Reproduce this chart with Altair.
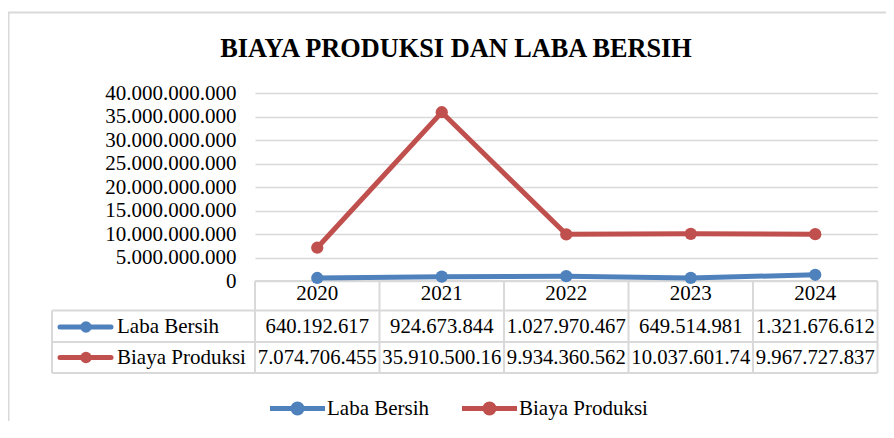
import altair as alt
import pandas as pd

# ---- data ----
YEARS = ["2020", "2021", "2022", "2023", "2024"]
SERIES = ["Laba Bersih", "Biaya Produksi"]
LABA = [640192617, 924673844, 1027970467, 649514981, 1321676612]
BIAYA = [7074706455, 35910500160, 9934360562, 10037601740, 9967727837]
LABA_LABELS = ["640.192.617", "924.673.844", "1.027.970.467", "649.514.981", "1.321.676.612"]
BIAYA_LABELS = ["7.074.706.455", "35.910.500.16", "9.934.360.562", "10.037.601.74", "9.967.727.837"]
Y_TICKS = [0, 5e9, 10e9, 15e9, 20e9, 25e9, 30e9, 35e9, 40e9]
TITLE = "BIAYA PRODUKSI DAN LABA BERSIH"
COLORS = ["#4F81BD", "#C0504D"]

rows = []
for s, vals, labs in [(SERIES[0], LABA, LABA_LABELS), (SERIES[1], BIAYA, BIAYA_LABELS)]:
    for y, v, l in zip(YEARS, vals, labs):
        rows.append({"year": y, "series": s, "value": v, "label": l})
df = pd.DataFrame(rows)
years_df = pd.DataFrame({"year": YEARS})
series_df = pd.DataFrame({"series": SERIES})
one = pd.DataFrame({"t": [TITLE]})

W, H = 622.5, 188
FONT = "Liberation Serif"
FS = 21
GRID = "#d9d9d9"

xscale = alt.Scale(type="band", domain=YEARS, paddingInner=0, paddingOuter=0)
cscale = alt.Scale(domain=SERIES, range=COLORS)
yrow = alt.Y("series:N", scale=alt.Scale(type="point", domain=SERIES, range=[234, 264.5], padding=0), axis=None)

def xc(bp=0.5):
    return alt.X("year:O", scale=xscale, axis=None, bandPosition=bp)

r1, r2 = 0.18, 0.08
SYM = (f"M-1.1,0L1.1,0M{r1},0A{r1},{r1},0,1,1,-{r1},0A{r1},{r1},0,1,1,{r1},0"
       f"M{r2},0A{r2},{r2},0,1,1,-{r2},0A{r2},{r2},0,1,1,{r2},0")

frame = alt.Chart(one).mark_rect(fill="transparent", stroke=GRID, strokeWidth=2).encode(
    x=alt.value(-246.5), x2=alt.value(W + 100), y=alt.value(-80.5), y2=alt.value(H + 300))

title = alt.Chart(one).mark_text(font=FONT, fontSize=26.3, fontWeight="bold", color="black",
                                 align="center", baseline="alphabetic").encode(
    x=alt.value(201), y=alt.value(-36), text="t:N")

line = alt.Chart(df).mark_line(strokeWidth=5).encode(
    x=xc(),
    y=alt.Y("value:Q", scale=alt.Scale(domain=[0, 40e9], nice=False),
            axis=alt.Axis(title=None, values=Y_TICKS, grid=True, gridColor=GRID, gridWidth=1.5,
                          domain=False, ticks=False, labelFont=FONT, labelFontSize=FS,
                          labelColor="black", labelPadding=19,
                          labelExpr="replace(format(datum.value, ','), regexp(',', 'g'), '.')")),
    color=alt.Color("series:N", scale=cscale,
                    legend=alt.Legend(orient="none", legendX=15, legendY=288, direction="horizontal",
                                      title=None, symbolType=SYM, symbolSize=2500, symbolStrokeWidth=5,
                                      symbolOpacity=1, labelFont=FONT, labelFontSize=FS,
                                      labelColor="black", labelOffset=2, columnPadding=22, padding=0)),
    order="year:O",
)

points = alt.Chart(df).mark_point(filled=True, size=150, opacity=1).encode(
    x=xc(),
    y=alt.Y("value:Q", scale=alt.Scale(domain=[0, 40e9], nice=False), axis=None),
    color=alt.Color("series:N", scale=cscale, legend=None),
)

vrules = alt.Chart(years_df).mark_rule(color=GRID, strokeWidth=2).encode(
    x=xc(0), y=alt.value(H), y2=alt.value(280))
vright = alt.Chart(one).mark_rule(color=GRID, strokeWidth=2).encode(
    x=alt.value(W), y=alt.value(H), y2=alt.value(280))
vleft = alt.Chart(one).mark_rule(color=GRID, strokeWidth=2).encode(
    x=alt.value(-203), y=alt.value(217.5), y2=alt.value(280))
htop = alt.Chart(one).mark_rule(color=GRID, strokeWidth=2).encode(
    x=alt.value(0), x2=alt.value(W), y=alt.value(H))
hrules = [alt.Chart(one).mark_rule(color=GRID, strokeWidth=2).encode(
    x=alt.value(-203), x2=alt.value(W), y=alt.value(yy)) for yy in (217.5, 249, 280)]

header = alt.Chart(years_df).mark_text(font=FONT, fontSize=FS, color="black", baseline="middle").encode(
    x=xc(), y=alt.value(201), text="year:N")

cells = alt.Chart(df).mark_text(font=FONT, fontSize=20.7, color="black", baseline="middle").encode(
    x=xc(), y=yrow, text="label:N")

rowlab = alt.Chart(series_df).mark_text(font=FONT, fontSize=FS, color="black", align="left",
                                        baseline="middle").encode(
    x=alt.value(-138), y=yrow, text="series:N")

rowline = alt.Chart(series_df).mark_rule(strokeWidth=5, strokeCap="round").encode(
    x=alt.value(-195), x2=alt.value(-144), y=yrow,
    color=alt.Color("series:N", scale=cscale, legend=None))
rowpt = alt.Chart(series_df).mark_point(filled=True, size=130, opacity=1).encode(
    x=alt.value(-169), y=yrow, color=alt.Color("series:N", scale=cscale, legend=None))

chart = alt.layer(
    frame, title, vrules, vright, vleft, htop, *hrules, line, points, header, cells, rowlab, rowline, rowpt
).resolve_scale(y="independent").properties(
    width=W, height=H,
    autosize=alt.AutoSizeParams(type="none"),
    padding={"left": 247, "top": 85, "right": 8, "bottom": 140},
).configure_view(stroke=None)

chart.save("out.html", embed_options={"renderer": "svg", "actions": False})
